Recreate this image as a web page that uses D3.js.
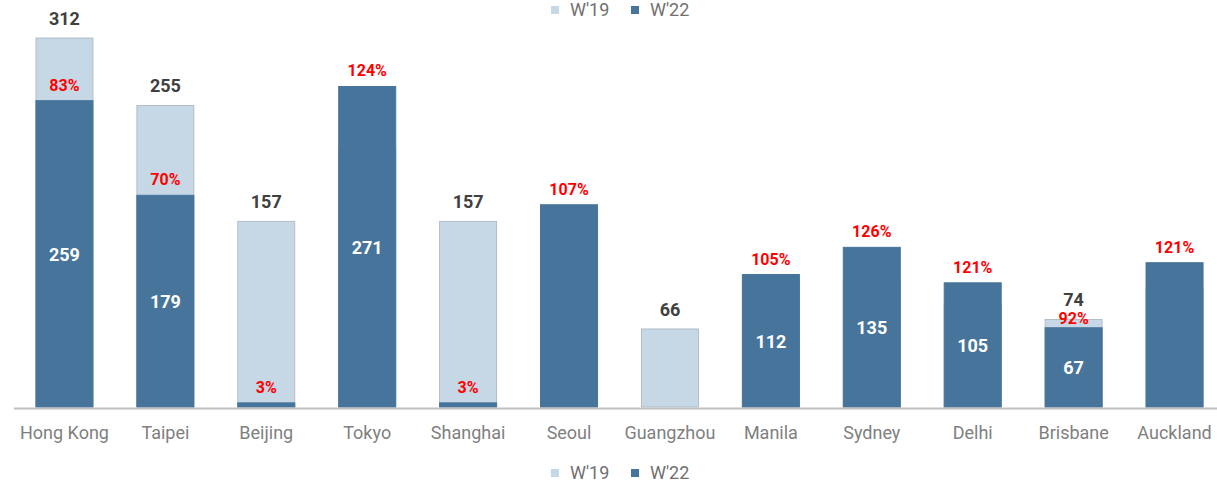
<!DOCTYPE html>
<html>
<head>
<meta charset="utf-8">
<script src="https://cdn.jsdelivr.net/npm/d3@7"></script>
<style>
  body { margin: 0; background: #fff; }
  svg { display: block; font-family: Roboto, "Noto Sans", sans-serif; }
</style>
</head>
<body>
<svg id="chart" width="1217" height="485"></svg>
<script>
// data
var cities = ["Hong Kong", "Taipei", "Beijing", "Tokyo", "Shanghai", "Seoul", "Guangzhou", "Manila", "Sydney", "Delhi", "Brisbane", "Auckland"];
var w19 = [312, 255, 157, 219, 157, 160, 66, 107, 107, 87, 74, 101];
var w22 = [259, 179, 3.5, 271, 3.5, 171, 0, 112, 135, 105, 67, 122];
var w19Labels = ["312", "255", "157", null, "157", null, "66", null, null, null, "74", null];
var w22Labels = ["259", "179", null, "271", null, null, null, "112", "135", "105", "67", null];
var pctLabels = ["83%", "70%", "3%", "124%", "3%", "107%", null, "105%", "126%", "121%", "92%", "121%"];
var seriesNames = ["W'19", "W'22"];

var colLight = "#c6d7e5", colDark = "#47749b";

var svg = d3.select("#chart");
var baseY = 407;

var x = d3.scaleBand().domain(cities).range([14, 1225]).paddingInner(0.435).paddingOuter(0.2175);
var y = d3.scaleLinear().domain([0, 312]).range([baseY, 38]);

var rows = cities.map(function(c, i) {
  return { city: c, a: w19[i], b: w22[i], la: w19Labels[i], lb: w22Labels[i], pct: pctLabels[i] };
});

// W'19 bars behind
svg.append("g").selectAll("rect").data(rows).join("rect")
  .attr("x", function(d) { return x(d.city); })
  .attr("width", x.bandwidth())
  .attr("y", function(d) { return y(d.a); })
  .attr("height", function(d) { return baseY - y(d.a); })
  .attr("fill", colLight)
  .attr("stroke", "#a9b4be")
  .attr("stroke-width", 0.8);

// W'22 bars in front
svg.append("g").selectAll("rect").data(rows.filter(function(d) { return d.b > 0; })).join("rect")
  .attr("x", function(d) { return x(d.city); })
  .attr("width", x.bandwidth())
  .attr("y", function(d) { return y(d.b); })
  .attr("height", function(d) { return baseY - y(d.b); })
  .attr("fill", colDark)
  .attr("stroke", colDark)
  .attr("stroke-width", 1);

// baseline
svg.append("line")
  .attr("x1", 14).attr("x2", 1217)
  .attr("y1", baseY + 1.5).attr("y2", baseY + 1.5)
  .attr("stroke", "#bfbfbf").attr("stroke-width", 2);

var cx = function(d) { return x(d.city) + x.bandwidth() / 2; };

// W'19 totals above light bars
svg.append("g").selectAll("text").data(rows.filter(function(d) { return d.la; })).join("text")
  .attr("x", cx)
  .attr("y", function(d) { return y(d.a) - 13; })
  .attr("text-anchor", "middle")
  .attr("font-size", 18).attr("font-weight", 700)
  .attr("fill", "#404040")
  .text(function(d) { return d.la; });

// W'22 values inside dark bars
svg.append("g").selectAll("text").data(rows.filter(function(d) { return d.lb; })).join("text")
  .attr("x", cx)
  .attr("y", function(d) { return (y(d.b) + baseY) / 2 + 7; })
  .attr("text-anchor", "middle")
  .attr("font-size", 18).attr("font-weight", 700)
  .attr("fill", "#ffffff")
  .text(function(d) { return d.lb; });

// recovery percentages
svg.append("g").selectAll("text").data(rows.filter(function(d) { return d.pct; })).join("text")
  .attr("x", cx)
  .attr("y", function(d) {
    var p = y(d.b) - 10;
    if (d.a > d.b) p = Math.max(p, y(d.a) + 5);
    return p;
  })
  .attr("text-anchor", "middle")
  .attr("font-size", 16).attr("font-weight", 700)
  .attr("fill", "#ff0000")
  .text(function(d) { return d.pct; });

// category labels
svg.append("g").selectAll("text").data(cities).join("text")
  .attr("x", function(d) { return x(d) + x.bandwidth() / 2; })
  .attr("y", 439)
  .attr("text-anchor", "middle")
  .attr("font-size", 18)
  .attr("fill", "#7f7f7f")
  .text(function(d) { return d; });

// legends (top and bottom)
function legend(yc) {
  var g = svg.append("g");
  var xs = [551, 631];
  seriesNames.forEach(function(n, i) {
    g.append("rect").attr("x", xs[i]).attr("y", yc - 4).attr("width", 8).attr("height", 8)
      .attr("fill", i === 0 ? colLight : colDark);
    g.append("text").attr("x", xs[i] + 19).attr("y", yc + 6)
      .attr("font-size", 18).attr("fill", "#707070").text(n);
  });
}
legend(10);
legend(473);
</script>
</body>
</html>
